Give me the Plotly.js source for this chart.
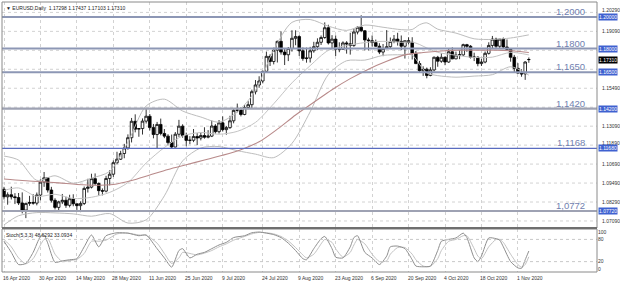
<!DOCTYPE html>
<html><head><meta charset="utf-8">
<script src="https://cdn.plot.ly/plotly-3.0.1.min.js"></script>
<style>html,body{margin:0;padding:0;background:#fff;}#chart{width:620px;height:281px;}</style>
</head><body><div id="chart"></div>
<script>
// EURUSD daily candles, 16 Apr 2020 .. 4 Nov 2020
const opens = [1.0910,1.0862,1.0875,1.0862,1.0857,1.0823,1.0778,1.0820,1.0826,1.0822,1.0873,1.0955,1.0982,1.0905,1.0840,1.0795,1.0830,1.0840,1.0808,1.0850,1.0818,1.0806,1.0820,1.0915,1.0923,1.0977,1.0946,1.0901,1.0898,1.0978,1.1005,1.1078,1.1100,1.1136,1.1171,1.1236,1.1340,1.1290,1.1294,1.1341,1.1372,1.1300,1.1256,1.1320,1.1263,1.1246,1.1205,1.1177,1.1258,1.1309,1.1250,1.1219,1.1220,1.1244,1.1234,1.1250,1.1239,1.1246,1.1310,1.1274,1.1330,1.1287,1.1300,1.1343,1.1409,1.1411,1.1383,1.1427,1.1445,1.1527,1.1570,1.1595,1.1656,1.1751,1.1718,1.1790,1.1846,1.1778,1.1761,1.1801,1.1865,1.1876,1.1786,1.1737,1.1740,1.1786,1.1812,1.1840,1.1870,1.1932,1.1836,1.1860,1.1796,1.1795,1.1836,1.1830,1.1820,1.1905,1.1935,1.1913,1.1855,1.1850,1.1838,1.1815,1.1778,1.1800,1.1812,1.1845,1.1860,1.1846,1.1815,1.1850,1.1840,1.1770,1.1705,1.1660,1.1670,1.1630,1.1665,1.1745,1.1720,1.1745,1.1715,1.1780,1.1735,1.1760,1.1760,1.1825,1.1815,1.1745,1.1746,1.1705,1.1715,1.1770,1.1820,1.1860,1.1815,1.1860,1.1810,1.1795,1.1745,1.1675,1.1645,1.1640,1.1730];
const highs = [1.0925,1.0890,1.0926,1.0885,1.0886,1.0890,1.0825,1.0868,1.0879,1.0889,1.0973,1.1019,1.0985,1.0925,1.0853,1.0837,1.0880,1.0862,1.0875,1.0878,1.0818,1.0833,1.0927,1.0976,1.1008,1.1010,1.0953,1.0915,1.0995,1.1030,1.1092,1.1147,1.1153,1.1197,1.1257,1.1361,1.1384,1.1297,1.1358,1.1422,1.1386,1.1323,1.1336,1.1357,1.1291,1.1258,1.1256,1.1272,1.1349,1.1321,1.1268,1.1246,1.1291,1.1265,1.1268,1.1302,1.1284,1.1345,1.1322,1.1348,1.1371,1.1310,1.1375,1.1418,1.1452,1.1428,1.1443,1.1467,1.1540,1.1601,1.1625,1.1660,1.1781,1.1764,1.1806,1.1850,1.1909,1.1797,1.1810,1.1916,1.1916,1.1885,1.1807,1.1806,1.1811,1.1843,1.1865,1.1883,1.1966,1.1951,1.1885,1.1883,1.1840,1.1846,1.1847,1.1900,1.1925,1.1940,1.2011,1.1917,1.1869,1.1883,1.1857,1.1834,1.1829,1.1917,1.1870,1.1886,1.1900,1.1883,1.1851,1.1872,1.1872,1.1785,1.1722,1.1688,1.1680,1.1682,1.1750,1.1754,1.1770,1.1750,1.1798,1.1808,1.1781,1.1790,1.1831,1.1830,1.1822,1.1774,1.1750,1.1735,1.1782,1.1840,1.1880,1.1869,1.1860,1.1870,1.1858,1.1800,1.1760,1.1708,1.1669,1.1720,1.1744];
const lows = [1.0845,1.0812,1.0845,1.0816,1.0810,1.0757,1.0727,1.0805,1.0812,1.0808,1.0840,1.0925,1.0889,1.0826,1.0782,1.0767,1.0816,1.0792,1.0795,1.0802,1.0775,1.0765,1.0810,1.0889,1.0915,1.0935,1.0870,1.0871,1.0890,1.0934,1.0988,1.1068,1.1095,1.1106,1.1160,1.1206,1.1270,1.1242,1.1256,1.1326,1.1282,1.1232,1.1168,1.1251,1.1233,1.1187,1.1168,1.1175,1.1241,1.1236,1.1182,1.1195,1.1208,1.1189,1.1219,1.1230,1.1232,1.1240,1.1262,1.1262,1.1275,1.1255,1.1292,1.1327,1.1397,1.1371,1.1378,1.1417,1.1421,1.1510,1.1552,1.1580,1.1649,1.1690,1.1700,1.1712,1.1762,1.1696,1.1721,1.1781,1.1821,1.1753,1.1723,1.1711,1.1712,1.1774,1.1790,1.1823,1.1862,1.1826,1.1802,1.1753,1.1777,1.1792,1.1768,1.1762,1.1811,1.1890,1.1904,1.1789,1.1789,1.1813,1.1811,1.1765,1.1752,1.1798,1.1803,1.1834,1.1819,1.1790,1.1737,1.1827,1.1731,1.1702,1.1652,1.1627,1.1612,1.1625,1.1656,1.1685,1.1710,1.1695,1.1710,1.1733,1.1733,1.1733,1.1753,1.1780,1.1737,1.1721,1.1688,1.1690,1.1707,1.1762,1.1800,1.1802,1.1797,1.1799,1.1790,1.1717,1.1650,1.1640,1.1622,1.1602,1.1710];
const closes = [1.0862,1.0875,1.0862,1.0857,1.0823,1.0778,1.0820,1.0826,1.0822,1.0873,1.0955,1.0982,1.0905,1.0840,1.0795,1.0830,1.0840,1.0808,1.0850,1.0818,1.0806,1.0820,1.0915,1.0923,1.0977,1.0946,1.0901,1.0898,1.0978,1.1005,1.1078,1.1100,1.1136,1.1171,1.1236,1.1340,1.1290,1.1294,1.1341,1.1372,1.1300,1.1256,1.1320,1.1263,1.1246,1.1205,1.1177,1.1258,1.1309,1.1250,1.1219,1.1220,1.1244,1.1234,1.1250,1.1239,1.1246,1.1310,1.1274,1.1330,1.1287,1.1300,1.1343,1.1409,1.1411,1.1383,1.1427,1.1445,1.1527,1.1570,1.1595,1.1656,1.1751,1.1718,1.1790,1.1846,1.1778,1.1761,1.1801,1.1865,1.1876,1.1786,1.1737,1.1740,1.1786,1.1812,1.1840,1.1870,1.1932,1.1836,1.1860,1.1796,1.1795,1.1836,1.1830,1.1820,1.1905,1.1935,1.1913,1.1855,1.1850,1.1838,1.1815,1.1778,1.1800,1.1812,1.1845,1.1860,1.1846,1.1815,1.1850,1.1840,1.1770,1.1705,1.1660,1.1670,1.1630,1.1665,1.1745,1.1720,1.1745,1.1715,1.1780,1.1735,1.1760,1.1760,1.1825,1.1815,1.1745,1.1746,1.1705,1.1715,1.1770,1.1820,1.1860,1.1815,1.1860,1.1810,1.1795,1.1745,1.1675,1.1645,1.1640,1.1715,1.1731];

// Bollinger bands
const bbIdx   = [0,4,9,14,19,24,29,34,39,44,49,54,59,64,69,74,79,84,89,94,99,104,109,112,114,116,119,124,129,134,139,144];
const bbUpper = [1.1120,1.1094,1.0966,1.0995,1.0948,1.0980,1.1023,1.1208,1.1437,1.1480,1.1405,1.1367,1.1335,1.1398,1.1535,1.1792,1.1966,1.1984,1.1942,1.1915,1.1949,1.1935,1.1920,1.1921,1.1951,1.1963,1.1923,1.1898,1.1862,1.1858,1.1867,1.1887];
const bbMid   = [1.0902,1.0918,1.0864,1.0878,1.0851,1.0859,1.0890,1.0952,1.1076,1.1174,1.1247,1.1269,1.1258,1.1276,1.1333,1.1451,1.1583,1.1692,1.1789,1.1819,1.1838,1.1846,1.1840,1.1841,1.1826,1.1804,1.1776,1.1758,1.1744,1.1746,1.1776,1.1760];
const bbLower = [1.0684,1.0742,1.0762,1.0760,1.0754,1.0739,1.0756,1.0696,1.0716,1.0868,1.1089,1.1171,1.1180,1.1154,1.1132,1.1110,1.1200,1.1400,1.1636,1.1723,1.1727,1.1757,1.1761,1.1760,1.1700,1.1646,1.1629,1.1619,1.1626,1.1635,1.1685,1.1632];

// Moving average
const maIdx  = [0,5,10,15,20,25,30,35,40,45,50,55,60,65,70,75,80,85,90,95,100,105,110,115,120,125,130,135,140,144];
const maVals = [1.0975,1.0965,1.0958,1.0950,1.0940,1.0935,1.0940,1.0965,1.1000,1.1035,1.1065,1.1095,1.1125,1.1160,1.1210,1.1290,1.1380,1.1460,1.1540,1.1610,1.1670,1.1720,1.1760,1.1775,1.1785,1.1790,1.1790,1.1790,1.1785,1.1775];

// Stochastic (5,3,3)
const stIdx = [0,2,4,6,8,10,11,12,14,16,18,20,22,24,26,28,31,34,37,39,42,44,46,48,49,51,53,55,57,59,61,63,66,68,70,72,74,76,78,80,82,83,85,87,88,90,91,93,95,96,97,99,101,103,105,106,108,110,112,113,115,117,119,120,122,124,126,127,129,130,131,133,135,136,137,139,141,142,143,144];
const stK = [75,45,12,15,45,88,92,70,18,22,25,28,60,92,60,90,98,97,90,92,55,30,5,50,55,30,40,45,55,65,72,85,90,98,100,97,93,85,70,50,28,25,55,82,88,55,32,30,60,85,90,45,30,12,35,60,62,55,25,8,6,8,50,75,80,84,97,85,30,20,35,84,82,78,60,20,3,2,25,48.6];
const stD = [80,60,30,14,28,65,80,83,40,20,23,26,42,75,75,78,95,97,92,91,70,42,15,30,45,42,38,43,50,60,68,78,88,95,99,98,95,88,76,58,38,30,40,68,80,72,55,32,45,65,80,68,40,20,22,40,58,58,40,25,8,7,28,50,75,80,90,90,55,35,28,60,80,80,72,40,12,5,12,33.1];

// Key levels
const levels = [1.2000,1.1800,1.1650,1.1420,1.1168,1.0772];
const levelText = ["1,2000","1,1800","1,1650","1,1420","1,1168","1,0772"];
const levelTag = ["1.20000","1.18000","1.16500","1.14200","1.11680","1.07720"];
const levelColor = ["#8d97b5","#8d97b5","#8d97b5","#9ea2b3","#5a6cc0","#9ea2b3"];
const levelWidth = [2.2,2,2,2.2,1.3,2.2];

// right-axis price labels (those hidden behind the level tags are not shown)
const priceTicks = [1.2029,1.1909,1.1549,1.1309,1.1189,1.1069,1.0949,1.0829,1.0709];
const priceTickText = ["1.20290","1.19090","1.15490","1.13090","1.11890","1.10690","1.09490","1.08290","1.07090"];
const gridTicks = [1.2029,1.1909,1.1789,1.1669,1.1549,1.1429,1.1309,1.1189,1.1069,1.0949,1.0829,1.0709];
const dateIdx = [0,10,20,30,40,50,60,71,81,91,101,111,121,131,141];
const dateText = ["16 Apr 2020","30 Apr 2020","14 May 2020","28 May 2020","11 Jun 2020","25 Jun 2020","9 Jul 2020","24 Jul 2020","9 Aug 2020","23 Aug 2020","6 Sep 2020","20 Sep 2020","4 Oct 2020","18 Oct 2020","1 Nov 2020"];
const lastPrice = 1.17310;
const header = "▼ EURUSD,Daily  1.17298 1.17437 1.17103 1.17310";
const stochHeader = "Stoch(5,3,3) 48.6292 33.0934";

const xs = closes.map((_, i) => i);
const FONT = "Liberation Sans, Arial, sans-serif";

const traces = [
  {type:'scatter', mode:'lines', x:bbIdx, y:bbUpper, line:{color:'#bdbdbd', width:1, shape:'spline', smoothing:0.8}, xaxis:'x', yaxis:'y', hoverinfo:'skip'},
  {type:'scatter', mode:'lines', x:bbIdx, y:bbMid, line:{color:'#c4c4c4', width:1, shape:'spline', smoothing:0.8}, xaxis:'x', yaxis:'y', hoverinfo:'skip'},
  {type:'scatter', mode:'lines', x:bbIdx, y:bbLower, line:{color:'#bdbdbd', width:1, shape:'spline', smoothing:0.8}, xaxis:'x', yaxis:'y', hoverinfo:'skip'},
  {type:'scatter', mode:'lines', x:maIdx, y:maVals, line:{color:'#b88a8a', width:1.1, shape:'spline', smoothing:0.8}, xaxis:'x', yaxis:'y', hoverinfo:'skip'},
  {type:'candlestick', x:xs, open:opens, high:highs, low:lows, close:closes, xaxis:'x', yaxis:'y',
   increasing:{line:{color:'#000', width:0.8}, fillcolor:'#ffffff'},
   decreasing:{line:{color:'#000', width:0.8}, fillcolor:'#000000'}, whiskerwidth:0},
  {type:'scatter', mode:'lines', x:stIdx, y:stD, line:{color:'#c2c2c2', width:1, shape:'spline', smoothing:0.6}, xaxis:'x', yaxis:'y2', hoverinfo:'skip'},
  {type:'scatter', mode:'lines', x:stIdx, y:stK, line:{color:'#8e8e8e', width:1, shape:'spline', smoothing:0.6}, xaxis:'x', yaxis:'y2', hoverinfo:'skip'}
];

const shapes = [];
gridTicks.forEach(g => {
  shapes.push({type:'line', xref:'paper', x0:0, x1:1, yref:'y', y0:g, y1:g, layer:'below', line:{color:'#d2d2d2', width:1, dash:'dot'}});
});
levels.forEach((lv, k) => {
  shapes.push({type:'line', xref:'paper', x0:0, x1:1, yref:'y', y0:lv, y1:lv, line:{color:levelColor[k], width:levelWidth[k]}});
});
shapes.push({type:'line', xref:'paper', x0:0, x1:1, yref:'y2', y0:20, y1:20, line:{color:'#c8c8c8', width:1, dash:'dot'}});
shapes.push({type:'line', xref:'paper', x0:0, x1:1, yref:'y2', y0:80, y1:80, line:{color:'#c8c8c8', width:1, dash:'dot'}});
shapes.push({type:'rect', xref:'paper', x0:0, x1:1, yref:'y domain', y0:0, y1:1, line:{color:'#8a8a8a', width:1}});
shapes.push({type:'rect', xref:'paper', x0:0, x1:1, yref:'y2 domain', y0:0, y1:1, line:{color:'#8a8a8a', width:1}});
shapes.push({type:'line', xref:'paper', x0:0, x1:1, yref:'y domain', y0:0, y1:0, line:{color:'#6f6f6f', width:2}});

const annotations = [];
// right-axis price labels as text, nudged clear of the level tags
priceTicks.forEach((p, k) => {
  let ys = 0;
  if (k === 0) ys = 2;
  if (priceTickText[k] === "1.11890") ys = 2;
  annotations.push({xref:'paper', x:1, yref:'y', y:p, text:priceTickText[k], showarrow:false, xanchor:'left', yanchor:'middle', xshift:3, yshift:ys,
    font:{family:FONT, size:5, color:'#333'}});
});
levels.forEach((lv, k) => {
  annotations.push({xref:'x', x:155.5, yref:'y', y:lv, text:levelText[k], showarrow:false, xanchor:'center', yanchor:'bottom', yshift:-2,
    font:{family:FONT, size:9.5, color:'#7181b0'}});
  annotations.push({xref:'paper', x:1, yref:'y', y:lv, text:levelTag[k], showarrow:false, xanchor:'left', yanchor:'middle', xshift:1,
    font:{family:FONT, size:5, color:'#ffffff'}, bgcolor:'#3f61d0', borderpad:0});
});
annotations.push({xref:'paper', x:1, yref:'y', y:lastPrice, text:lastPrice.toFixed(5), showarrow:false, xanchor:'left', yanchor:'middle', xshift:1,
  font:{family:FONT, size:5, color:'#ffffff'}, bgcolor:'#000000', borderpad:0});
dateIdx.forEach((d, k) => {
  annotations.push({xref:'x', x:d, yref:'paper', y:0, text:dateText[k], showarrow:false, xanchor:'left', yanchor:'top', xshift:-3, yshift:-1,
    font:{family:FONT, size:5, color:'#333'}});
});
annotations.push({xref:'paper', x:0, yref:'paper', y:1, text:header, showarrow:false, xanchor:'left', yanchor:'top', xshift:2, yshift:-1,
  font:{family:FONT, size:5, color:'#222'}});
annotations.push({xref:'paper', x:0, yref:'y2 domain', y:1, text:stochHeader, showarrow:false, xanchor:'left', yanchor:'top', xshift:2, yshift:-1,
  font:{family:FONT, size:5, color:'#222'}});

const layout = {
  width:620, height:281,
  margin:{l:2, r:23, t:2, b:9, pad:0},
  paper_bgcolor:'#ffffff', plot_bgcolor:'#ffffff',
  showlegend:false,
  boxgap:0.2, boxgroupgap:0.1,
  xaxis:{range:[-0.55,162.7], tickvals:dateIdx, showticklabels:false, ticks:'', showgrid:true, gridcolor:'#d2d2d2', griddash:'dot', gridwidth:1,
    zeroline:false, showline:false, anchor:'y2', rangeslider:{visible:false}, fixedrange:true},
  yaxis:{domain:[0.163,1], range:[1.06646,1.20949], side:'right', showticklabels:false, ticks:'',
    showgrid:false, zeroline:false, showline:false, fixedrange:true},
  yaxis2:{domain:[0,0.159], range:[-8.1,108], side:'right', tickvals:[0,20,80,100], ticktext:['0','20','80','100'], ticks:'',
    tickfont:{family:FONT, size:5, color:'#333'}, showgrid:false, zeroline:false, showline:false, fixedrange:true},
  shapes:shapes, annotations:annotations
};

Plotly.newPlot('chart', traces, layout, {staticPlot:true, displayModeBar:false});
</script></body></html>
